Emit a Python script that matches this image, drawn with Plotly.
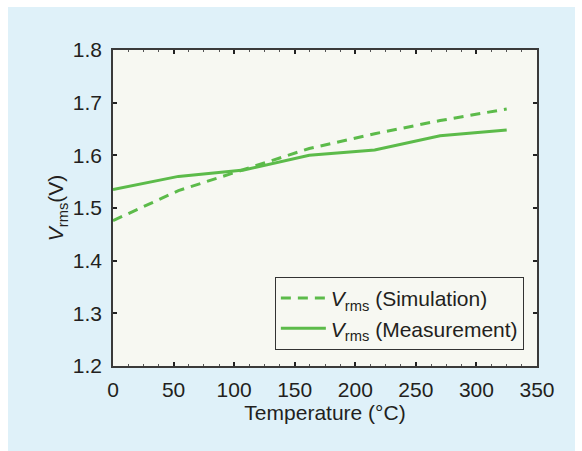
import plotly.graph_objects as go

temps = [0, 54, 108, 162, 216, 270, 325]
v_sim = [1.476, 1.533, 1.573, 1.613, 1.641, 1.666, 1.688]
v_meas = [1.535, 1.560, 1.572, 1.600, 1.610, 1.637, 1.648]

x_ticks = [0, 50, 100, 150, 200, 250, 300, 350]
y_ticks = [1.2, 1.3, 1.4, 1.5, 1.6, 1.7, 1.8]

W, H = 582, 451
L, R, T, B = 113, 45, 50, 85
green = "#5cbb4a"
font = "Liberation Sans, Arial, sans-serif"
txt = "#231f20"
fs = 21

fig = go.Figure()
fig.add_trace(go.Scatter(x=temps, y=v_sim, mode="lines",
                         name="<i>V</i><sub>rms</sub> (Simulation)",
                         line=dict(color=green, width=3, dash="10px,7px")))
fig.add_trace(go.Scatter(x=temps, y=v_meas, mode="lines",
                         name="<i>V</i><sub>rms</sub> (Measurement)",
                         line=dict(color=green, width=3)))

axis_common = dict(showline=True, linecolor="#3a3a3a", linewidth=1.5, mirror="allticks",
                   ticks="inside", ticklen=4, tickwidth=1.5, tickcolor="#222",
                   showgrid=False, zeroline=False,
                   tickfont=dict(family=font, size=fs, color=txt))

fig.update_xaxes(range=[0, 350], tickvals=x_ticks, ticklabelstandoff=4,
                 minor=dict(dtick=12.5, ticks="inside", ticklen=2, tickcolor="#555", tickwidth=1),
                 title=dict(text="Temperature (°C)", font=dict(family=font, size=fs, color=txt), standoff=4),
                 **axis_common)
fig.update_yaxes(range=[1.2, 1.8], tickvals=y_ticks, tickformat=".1f", ticklabelstandoff=5,
                 title=dict(text="<i>V</i><sub>rms</sub>(V)", font=dict(family=font, size=fs, color=txt), standoff=3),
                 **axis_common)

pw = W - L - R
ph = H - T - B
shapes = []
# white frame strips outside the blue panel
for x0, y0, x1, y1 in [(0, 0, 8, H), (0, 0, W, 7), (575, 0, W, H)]:
    shapes.append(dict(type="rect", xref="paper", yref="paper",
                       x0=(x0 - L) / pw, x1=(x1 - L) / pw,
                       y0=(H - B - y0) / ph, y1=(H - B - y1) / ph,
                       fillcolor="white", line=dict(width=0), layer="above"))

fig.update_layout(
    width=W, height=H,
    margin=dict(l=L, r=R, t=T, b=B),
    paper_bgcolor="#dff1f9", plot_bgcolor="#f7f8f2",
    font=dict(family=font, size=fs, color=txt),
    shapes=shapes,
    legend=dict(x=0.969, y=0.282, xanchor="right", yanchor="top",
                bgcolor="#f7f8f2", bordercolor="#333", borderwidth=1,
                font=dict(family=font, size=fs, color=txt),
                itemwidth=45, tracegroupgap=0),
)

fig.write_html("out.html")
